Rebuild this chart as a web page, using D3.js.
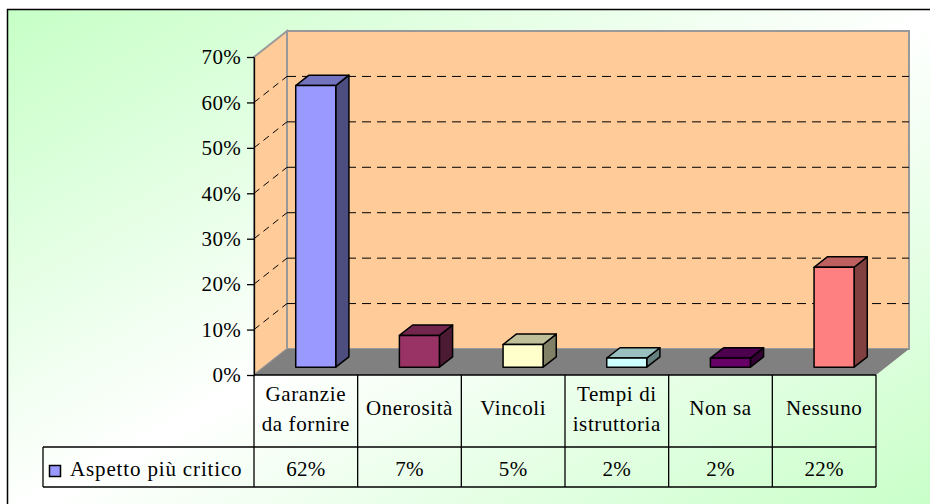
<!DOCTYPE html>
<html>
<head>
<meta charset="utf-8">
<script src="https://cdn.jsdelivr.net/npm/d3@7"></script>
<style>
  body { margin: 0; background: #fff; }
  svg { display: block; }
  text { font-family: "Liberation Serif", "Times New Roman", "DejaVu Serif", serif; fill: #000; }
</style>
</head>
<body>
<div id="chart"></div>
<script>
// data
const categories = ["Garanzie\nda fornire", "Onerosità", "Vincoli", "Tempi di\nistruttoria", "Non sa", "Nessuno"];
const values = [0.62, 0.07, 0.05, 0.02, 0.02, 0.22];
const barColors = ["#9999FF", "#993366", "#FFFFCC", "#CCFFFF", "#660066", "#FF8080"];
const yTicks = [0, 0.1, 0.2, 0.3, 0.4, 0.5, 0.6, 0.7];
const seriesName = "Aspetto più critico";

const width = 930, height = 504;
const left = 254, right = 876, floorY = 375, topY = 57;
const depthX = 33, depthY = 26;       // wall depth
const f0 = 0.3, f1 = 0.7;             // bar front/back depth fraction
const rowMid = 447, rowBot = 487, legendLeft = 43;
const barW = 40;

const svg = d3.select("#chart").append("svg")
    .attr("width", width)
    .attr("height", height);

let defs = svg.append("defs");
let grad = defs.append("linearGradient")
    .attr("id", "bg")
    .attr("x1", 0).attr("y1", 0).attr("x2", 1).attr("y2", 1);
grad.append("stop").attr("offset", "0%").attr("stop-color", "#C6FFC6");
grad.append("stop").attr("offset", "50%").attr("stop-color", "#FFFFFF");
grad.append("stop").attr("offset", "100%").attr("stop-color", "#C6FFC6");

// chart frame (right and bottom edges run off the picture)
svg.append("rect")
    .attr("x", 7.5).attr("y", 9.5)
    .attr("width", 940).attr("height", 510)
    .style("fill", "url(#bg)")
    .style("stroke", "#000")
    .style("stroke-width", 1.5);

const x = d3.scaleBand().domain(categories).range([left, right]);
const y = d3.scaleLinear().domain([0, 0.7]).range([floorY, topY]);

const pts = p => p.map(d => d.join(",")).join(" ");

// walls
svg.append("polygon")
    .attr("points", pts([[left, y(0)], [left, y(0.7)], [left + depthX, y(0.7) - depthY], [left + depthX, y(0) - depthY]]))
    .style("fill", "#FFCC99")
    .style("stroke", "#999")
    .style("stroke-width", 2);
svg.append("rect")
    .attr("x", left + depthX).attr("y", y(0.7) - depthY)
    .attr("width", right - left).attr("height", y(0) - y(0.7))
    .style("fill", "#FFCC99")
    .style("stroke", "#999")
    .style("stroke-width", 2);

// gridlines
let grid = yTicks.filter(d => d > 0 && d < 0.7);
svg.selectAll()
    .data(grid)
    .enter()
    .append("line")
    .attr("x1", left + depthX).attr("x2", right + depthX)
    .attr("y1", d => y(d) - depthY).attr("y2", d => y(d) - depthY)
    .style("stroke", "#000")
    .style("stroke-dasharray", "9,6");
svg.selectAll()
    .data(grid)
    .enter()
    .append("line")
    .attr("x1", left).attr("x2", left + depthX)
    .attr("y1", d => y(d)).attr("y2", d => y(d) - depthY)
    .style("stroke", "#000")
    .style("stroke-dasharray", "7,5");

// floor
svg.append("polygon")
    .attr("points", pts([[left, y(0)], [left + depthX, y(0) - depthY], [right + depthX, y(0) - depthY], [right, y(0)]]))
    .style("fill", "#808080");

// bars
const ddx = (f1 - f0) * depthX, ddy = (f1 - f0) * depthY;
let bars = svg.selectAll()
    .data(values.map((v, i) => ({v: v, c: categories[i], col: barColors[i]})))
    .enter()
    .append("g");
function geo(d) {
    let cx = x(d.c) + x.bandwidth() / 2;
    let x0 = cx - barW / 2 + f0 * depthX, x1 = x0 + barW;
    let yb = y(0) - f0 * depthY, yt = y(d.v) - f0 * depthY;
    return {x0, x1, yb, yt};
}
bars.append("polygon")
    .attr("points", d => { let g = geo(d); return pts([[g.x1, g.yt], [g.x1 + ddx, g.yt - ddy], [g.x1 + ddx, g.yb - ddy], [g.x1, g.yb]]); })
    .style("fill", d => d3.interpolateRgb(d.col, "#000")(0.5));
bars.append("polygon")
    .attr("points", d => { let g = geo(d); return pts([[g.x0, g.yt], [g.x1, g.yt], [g.x1 + ddx, g.yt - ddy], [g.x0 + ddx, g.yt - ddy]]); })
    .style("fill", d => d3.interpolateRgb(d.col, "#000")(0.25));
bars.append("rect")
    .attr("x", d => geo(d).x0)
    .attr("y", d => geo(d).yt)
    .attr("width", barW)
    .attr("height", d => geo(d).yb - geo(d).yt)
    .style("fill", d => d.col);
bars.selectAll("polygon, rect")
    .style("stroke", "#000")
    .style("stroke-width", 1.5)
    .style("stroke-linejoin", "round");

// y axis
let yAxis = svg.append("g")
    .attr("transform", "translate(" + left + ",0)")
    .call(d3.axisLeft(y).tickValues(yTicks).tickFormat(d3.format(".0%")).tickSize(7).tickSizeOuter(0).tickPadding(6));
yAxis.attr("font-family", null);
yAxis.select(".domain").style("stroke", "#000").style("stroke-width", 1.3);
yAxis.selectAll(".tick line").style("stroke", "#000").style("stroke-width", 1.3);
yAxis.selectAll("text")
    .style("font-size", "21px")
    .style("letter-spacing", "0.3px")
    .attr("dy", "0.32em")
    .style("fill", "#000");

// data table
let table = svg.append("g").style("stroke", "#000").style("stroke-width", 1.3).style("fill", "none");
table.append("line").attr("x1", left).attr("x2", right).attr("y1", floorY).attr("y2", floorY);
table.append("line").attr("x1", legendLeft).attr("x2", right).attr("y1", rowMid).attr("y2", rowMid);
table.append("line").attr("x1", legendLeft).attr("x2", right).attr("y1", rowBot).attr("y2", rowBot);
table.append("line").attr("x1", legendLeft).attr("x2", legendLeft).attr("y1", rowMid).attr("y2", rowBot);
table.selectAll()
    .data(categories)
    .enter()
    .append("line")
    .attr("x1", d => x(d) + x.bandwidth()).attr("x2", d => x(d) + x.bandwidth())
    .attr("y1", floorY).attr("y2", rowBot);
table.append("line").attr("x1", left).attr("x2", left).attr("y1", floorY).attr("y2", rowBot);

let catText = svg.selectAll()
    .data(categories)
    .enter()
    .append("text")
    .attr("text-anchor", "middle")
    .style("font-size", "21px")
    .style("letter-spacing", "0.6px");
catText.each(function (d) {
    let lines = d.split("\n");
    let cx = x(d) + x.bandwidth() / 2;
    let t = d3.select(this);
    if (lines.length === 1) {
        t.append("tspan").attr("x", cx).attr("y", 415).text(lines[0]);
    } else {
        lines.forEach((l, i) => t.append("tspan").attr("x", cx).attr("y", 401 + i * 30).text(l));
    }
});

svg.selectAll()
    .data(values.map((v, i) => ({v: v, c: categories[i]})))
    .enter()
    .append("text")
    .attr("x", d => x(d.c) + x.bandwidth() / 2)
    .attr("y", 476)
    .attr("text-anchor", "middle")
    .style("font-size", "21px")
    .style("letter-spacing", "0.3px")
    .text(d => d3.format(".0%")(d.v));

// legend key
svg.append("rect")
    .attr("x", 49.5).attr("y", 465.5)
    .attr("width", 11).attr("height", 11)
    .style("fill", barColors[0])
    .style("stroke", "#000")
    .style("stroke-width", 1.5);
svg.append("text")
    .attr("x", 70).attr("y", 476)
    .style("font-size", "21px")
    .style("letter-spacing", "0.85px")
    .text(seriesName);
</script>
</body>
</html>
